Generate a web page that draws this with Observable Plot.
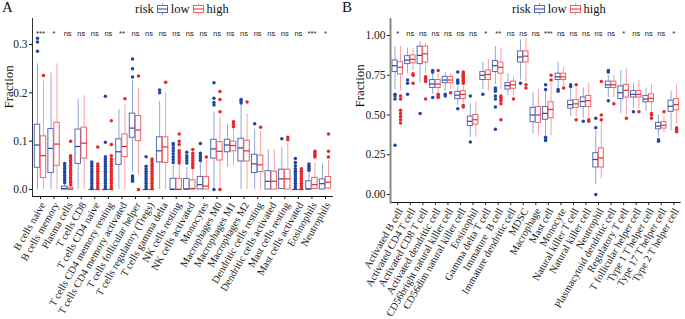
<!DOCTYPE html>
<html><head><meta charset="utf-8">
<script src="https://cdn.jsdelivr.net/npm/d3@7"></script>
<script src="https://cdn.jsdelivr.net/npm/@observablehq/plot@0.6"></script>
<style>
body{margin:0;background:#fff;font-family:"Liberation Serif",serif;color:#111;}
#wrap{position:relative;width:685px;height:319px;overflow:hidden;}
.panel{position:absolute;top:0;}
.hdr{position:relative;height:18px;}
.letter{position:absolute;left:2px;top:-1px;font-size:15px;}
.legend{position:absolute;top:0px;font-size:12.5px;display:flex;align-items:center;height:18px;white-space:nowrap;}
.legend svg{margin:0 3px 0 3px;}
.panel > svg{display:block;}
</style></head>
<body><div id="wrap"></div>
<script>
// ---------- Panel A data ----------
const catsA = ["B cells naive","B cells memory","Plasma cells","T cells CD8","T cells CD4 naive","T cells CD4 memory resting","T cells CD4 memory activated","T cells follicular helper","T cells regulatory (Tregs)","T cells gamma delta","NK cells resting","NK cells activated","Monocytes","Macrophages M0","Macrophages M1","Macrophages M2","Dendritic cells resting","Dendritic cells activated","Mast cells resting","Mast cells activated","Eosinophils","Neutrophils"];
const sigA = ["***","*","ns","ns","ns","ns","**","ns","ns","ns","ns","ns","ns","ns","ns","ns","ns","ns","ns","ns","***","*"];
// [whiskerLow, q1, median, q3, whiskerHigh]
const lowA = [[0,0.045,0.092,0.134,0.26],[0,0.034,0.085,0.125,0.241],[0,0,0.002,0.006,0.01],[0,0.053,0.089,0.124,0.186],[0,0,0,0,0],[0,0,0,0,0],[0,0.051,0.078,0.104,0.165],[0.035,0.107,0.127,0.157,0.225],[0,0,0,0,0],[0,0.056,0.08,0.108,0.182],[0,0,0,0.022,0.05],[0,0,0.001,0.022,0.045],[0,0,0.01,0.026,0.055],[0.002,0.064,0.084,0.103,0.16],[0.046,0.077,0.092,0.103,0.135],[0,0.058,0.086,0.105,0.175],[0,0.034,0.053,0.072,0.125],[0,0,0.017,0.038,0.083],[0.001,0.001,0.022,0.041,0.087],[0,0,0,0,0],[0,0,0.001,0.017,0.035],[0,0,0.012,0.021,0.053]];
const highA = [[0,0.024,0.07,0.11,0.225],[0,0.049,0.094,0.138,0.26],[0,0,0.001,0.004,0.008],[0,0.064,0.096,0.128,0.194],[0,0,0,0,0],[0,0,0,0,0],[0,0.067,0.089,0.114,0.175],[0.03,0.1,0.123,0.152,0.21],[0,0,0,0,0],[0,0.055,0.088,0.108,0.2],[0,0,0,0.022,0.05],[0,0,0.002,0.019,0.04],[0,0,0.007,0.026,0.06],[0,0.06,0.079,0.098,0.15],[0.05,0.079,0.091,0.099,0.125],[0,0.058,0.08,0.101,0.157],[0,0.036,0.051,0.07,0.12],[0,0,0.017,0.037,0.083],[0,0,0.022,0.041,0.095],[0,0,0,0,0],[0,0.001,0.01,0.024,0.055],[0,0.002,0.015,0.026,0.06]];
const outLowA = [[0.286,0.305,0.313],[],[0.014,0.019,0.024,0.029,0.034,0.039,0.044,0.049,0.054],[],[0.003,0.008,0.013,0.018,0.023,0.028,0.033,0.038,0.043,0.048,0.053,0.057],[0.003,0.008,0.013,0.018,0.023,0.028,0.033,0.038,0.043,0.048,0.053,0.058,0.063,0.068,0.098,0.193],[],[0.017,0.021,0.025,0.028,0.233,0.25,0.27],[0.003,0.008,0.013,0.018,0.023,0.028,0.033,0.038,0.043,0.048,0.068],[0.2,0.206],[0.056,0.062,0.068,0.074,0.08,0.086,0.092,0.095],[0.055,0.06,0.065,0.07,0.077],[0.06,0.065,0.07,0.075,0.095],[0,0.175,0.18,0.189,0.221],[],[0.179,0.183,0.186],[0.136],[],[0.105],[0.003,0.008,0.013,0.018,0.023,0.028,0.033,0.038,0.043,0.049,0.056,0.064],[0.04,0.044,0.048,0.053],[]];
const outHighA = [[0.236],[],[0.01,0.015,0.02,0.025,0.03,0.035,0.04,0.045,0.05,0.055,0.06,0.065,0.07,0.1],[],[0.003,0.008,0.013,0.018,0.023,0.028,0.033,0.038,0.043,0.048,0.053,0.088],[0.003,0.008,0.013,0.018,0.023,0.028,0.033,0.038,0.043,0.048,0.053,0.058,0.063,0.07,0.093,0.142],[0.188],[0,0.235],[0.003,0.008,0.013,0.018,0.023,0.028,0.033,0.038,0.043,0.048,0.053,0.058,0.063],[0.222],[0.055,0.06,0.065,0.07,0.075,0.08,0.093,0.1,0.115],[0.045,0.05,0.055,0.06,0.065,0.07,0.075,0.083],[0.067],[0,0.161,0.186,0.203],[0.13,0.135,0.14],[0.181],[0.129],[],[0.103,0.108],[0.003,0.008,0.013,0.018,0.023,0.028,0.033,0.038,0.043],[0.067,0.071,0.075,0.079],[0.067,0.079,0.115]];
const yTicksA = [0, 0.1, 0.2, 0.3];

// ---------- Panel B data ----------
const catsB = ["Activated B cell","Activated CD4 T cell","Activated CD8 T cell","Activated dendritic cell","CD56bright natural killer cell","CD56dim natural killer cell","Eosinophil","Gamma delta T cell","Immature  B cell","Immature dendritic cell","MDSC","Macrophage","Mast cell","Monocyte","Natural killer T cell","Natural killer cell","Neutrophil","Plasmacytoid dendritic cell","Regulatory T cell","T follicular helper cell","Type 1 T helper cell","Type 17 T helper cell","Type 2 T helper cell"];
const sigB = ["*","ns","ns","ns","ns","ns","ns","*","**","ns","ns","ns","***","ns","ns","ns","ns","ns","*","ns","ns","ns","*"];
const lowB = [[0.66,0.77,0.81,0.843,0.93],[0.76,0.82,0.845,0.87,0.92],[0.70,0.82,0.875,0.93,0.96],[0.63,0.67,0.695,0.72,0.76],[0.65,0.70,0.72,0.74,0.77],[0.56,0.60,0.625,0.645,0.68],[0.36,0.43,0.46,0.49,0.57],[0.66,0.72,0.75,0.77,0.83],[0.69,0.77,0.81,0.84,0.93],[0.62,0.66,0.685,0.70,0.76],[0.72,0.83,0.865,0.90,0.97],[0.38,0.455,0.50,0.545,0.64],[0.37,0.47,0.51,0.55,0.65],[0.67,0.72,0.74,0.76,0.83],[0.49,0.54,0.565,0.59,0.67],[0.48,0.55,0.585,0.61,0.67],[0.06,0.17,0.22,0.26,0.40],[0.61,0.67,0.69,0.71,0.75],[0.51,0.60,0.64,0.68,0.78],[0.54,0.61,0.63,0.65,0.70],[0.52,0.58,0.60,0.62,0.67],[0.36,0.41,0.43,0.45,0.50],[0.40,0.52,0.555,0.59,0.65]];
const highB = [[0.65,0.755,0.80,0.832,0.93],[0.78,0.825,0.85,0.875,0.92],[0.76,0.83,0.885,0.93,0.95],[0.64,0.67,0.695,0.72,0.76],[0.66,0.70,0.72,0.74,0.76],[0.57,0.60,0.63,0.65,0.68],[0.36,0.44,0.47,0.50,0.58],[0.65,0.72,0.755,0.78,0.85],[0.66,0.76,0.80,0.83,0.92],[0.62,0.665,0.69,0.71,0.74],[0.71,0.83,0.87,0.90,0.98],[0.37,0.45,0.50,0.55,0.66],[0.37,0.48,0.535,0.58,0.70],[0.68,0.72,0.74,0.76,0.80],[0.49,0.545,0.57,0.595,0.67],[0.48,0.55,0.59,0.62,0.70],[0.10,0.17,0.23,0.29,0.46],[0.61,0.67,0.69,0.71,0.75],[0.50,0.61,0.655,0.69,0.79],[0.54,0.61,0.63,0.65,0.72],[0.52,0.58,0.605,0.63,0.69],[0.39,0.415,0.435,0.455,0.49],[0.44,0.53,0.565,0.60,0.69]];
const outLowB = [[0.31,0.60,0.62,0.63],[0.63,0.70,0.72],[0.51],[0.61,0.77,0.78],[0.62,0.63],[0.54,0.70,0.71,0.72,0.77],[0.33,0.62],[0.63],[0.41,0.55,0.60,0.62,0.65,0.66,0.67],[],[0.70],[],[0.34,0.35,0.36,0.66,0.69],[0.65,0.66],[0.68,0.69],[0.46],[0.00,0.42,0.48],[0.59,0.77,0.78],[],[0.52],[],[0.335,0.345],[]];
const outHighB = [[0.45,0.47,0.49,0.51,0.53,0.60,0.62],[0.70,0.75,0.76],[0.60,0.71,0.72,0.73,0.74],[0.61,0.62,0.63,0.78],[0.64],[0.55,0.56,0.70,0.71,0.72,0.73,0.74,0.75,0.76,0.77],[],[],[0.47,0.57,0.59,0.60,0.61,0.62],[0.60],[0.67,0.69],[],[0.72,0.75],[0.67],[0.47,0.69],[0.46,0.47],[0.47,0.50,0.71],[0.57],[0.48],[0.52],[0.48,0.50,0.51],[0.52],[0.395,0.40,0.41,0.42]];
const yTicksB = [0, 0.25, 0.5, 0.75, 1];

const groups = ["low", "high"];
const colors = {
  low:  {box: "#4f6cb6", whisker: "#97a8d8", median: "#26479c", dot: "#1f48a0"},
  high: {box: "#ee6266", whisker: "#f5a3a5", median: "#e3282d", dot: "#e6262b"}
};

function legendGlyph(c) {
  return `<svg width="11" height="12" viewBox="0 0 11 12"><line x1="5.5" y1="0" x2="5.5" y2="12" stroke="${c.whisker}"/><rect x="0.5" y="2.5" width="10" height="7" fill="white" stroke="${c.box}"/><line x1="0.5" y1="6" x2="10.5" y2="6" stroke="${c.median}"/></svg>`;
}

function makePanel(cfg) {
  const n = cfg.cats.length;
  const OFF = 0.22, HW = 0.2;
  const boxes = {low: [], high: []}, outs = {low: [], high: []};
  cfg.cats.forEach((c, i) => {
    groups.forEach((g, k) => {
      const st = (g === "low" ? cfg.low : cfg.high)[i];
      const ou = (g === "low" ? cfg.outLow : cfg.outHigh)[i];
      const cx = i + (k === 0 ? -OFF : OFF);
      boxes[g].push({cx, lo: st[0], q1: st[1], md: st[2], q3: st[3], hi: st[4]});
      ou.forEach(v => outs[g].push({cx, v}));
    });
  });
  const marks = [];
  groups.forEach(g => {
    const c = colors[g];
    marks.push(
      Plot.ruleX(boxes[g], {x: "cx", y1: "lo", y2: "hi", stroke: c.whisker, strokeWidth: 1}),
      Plot.rect(boxes[g], {x1: d => d.cx - HW, x2: d => d.cx + HW, y1: "q1", y2: "q3", fill: "white", stroke: c.box, strokeWidth: 1}),
      Plot.ruleY(boxes[g], {x1: d => d.cx - HW, x2: d => d.cx + HW, y: "md", stroke: c.median, strokeWidth: 1.2}),
      Plot.dot(outs[g], {x: "cx", y: "v", r: 1.75, fill: c.dot, stroke: null})
    );
  });
  const ticks = d3.range(n);
  marks.push(
    Plot.text(cfg.sig, {x: (d, i) => i, text: d => d, frameAnchor: "top", lineAnchor: "middle", dy: cfg.sigDy, fontFamily: "Liberation Sans, Arial, sans-serif", fontSize: 7.5, fill: "#222"}),
    Plot.axisX({ticks, tickFormat: () => "", tickSize: 3, label: null, stroke: "#222"}),
    Plot.axisX({ticks, tickFormat: i => cfg.cats[i], tickRotate: -60, tickSize: 0, tickPadding: 5, dx: 2.5, dy: 1.5, fontSize: 10.4, label: null, fill: "#222"}),
    Plot.axisY({ticks: cfg.yTicks, tickFormat: cfg.yFmt, tickSize: 3, tickPadding: 2, fontSize: 11.5, label: null, fill: "#222"}),
    Plot.frame({anchor: "bottom", stroke: "#111"}),
    Plot.frame({anchor: "left", stroke: cfg.leftStroke, strokeWidth: cfg.leftWidth}),
    Plot.text(["Fraction"], {frameAnchor: "left", rotate: -90, dx: cfg.labelDx, dy: cfg.labelDy, fontSize: 13, fill: "#111"})
  );
  return Plot.plot({
    width: cfg.width, height: 301,
    marginLeft: cfg.marginLeft, marginRight: cfg.width - cfg.xRange[1], marginTop: 0, marginBottom: cfg.marginBottom,
    x: {domain: [-0.5, n - 0.5], range: cfg.xRange},
    y: {domain: [0, cfg.yTicks[cfg.yTicks.length - 1]], range: cfg.yRange},
    style: {fontFamily: "Liberation Serif, serif", background: "white"},
    marks
  });
}

function addPanel(left, letter, legendLeft, cfg) {
  const div = document.createElement("div");
  div.className = "panel";
  div.style.left = left + "px";
  div.style.width = cfg.width + "px";
  const hdr = document.createElement("div");
  hdr.className = "hdr";
  hdr.innerHTML = `<div class="letter">${letter}</div><div class="legend" style="left:${legendLeft}px">risk${legendGlyph(colors.low)}low${legendGlyph(colors.high)}high</div>`;
  div.appendChild(hdr);
  div.appendChild(makePanel(cfg));
  document.getElementById("wrap").appendChild(div);
}

addPanel(0, "A", 135, {
  cats: catsA, sig: sigA, low: lowA, high: highA, outLow: outLowA, outHigh: outHighA,
  width: 340, marginLeft: 32, xRange: [33.2, 331.8], yRange: [171, 26], marginBottom: 123,
  yTicks: yTicksA, yFmt: d3.format(".1f"), leftStroke: "#333", leftWidth: 1,
  sigDy: 15, labelDx: -24, labelDy: 1
});
addPanel(340, "B", 172, {
  cats: catsB, sig: sigB, low: lowB, high: highB, outLow: outLowB, outHigh: outHighB,
  width: 345, marginLeft: 50, xRange: [51, 339.6], yRange: [176, 17], marginBottom: 117,
  yTicks: yTicksB, yFmt: d3.format(".2f"), leftStroke: "#888", leftWidth: 2,
  sigDy: 15, labelDx: -31, labelDy: -3
});
</script>
</body></html>
